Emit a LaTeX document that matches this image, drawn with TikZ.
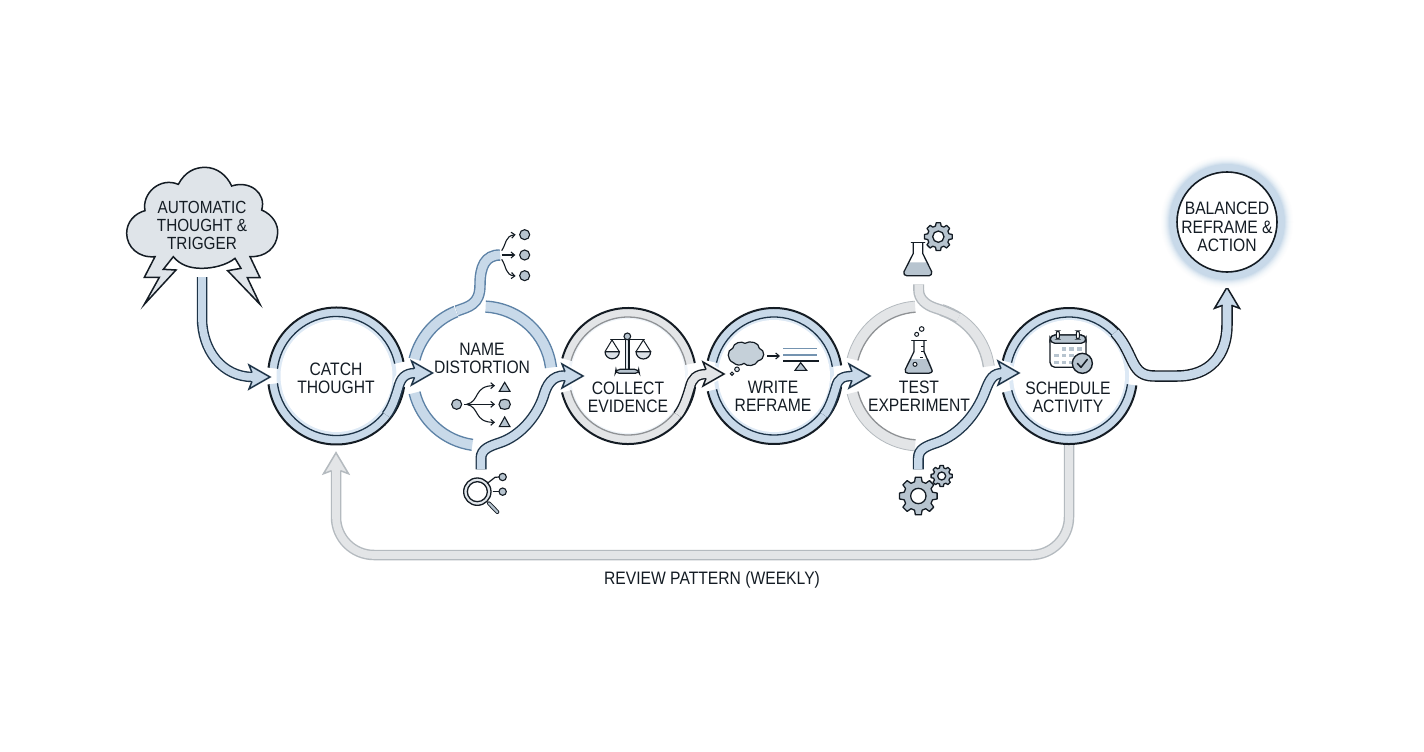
\documentclass[tikz,border=0pt]{standalone}
\usepackage{fontspec}
\setmainfont[FakeStretch=0.87]{Liberation Sans}
\definecolor{ink}{HTML}{141C24}
\definecolor{bandblue}{HTML}{C8D9E9}
\definecolor{edgedark}{HTML}{1E3448}
\definecolor{steel}{HTML}{5D82A6}
\definecolor{bandgrey}{HTML}{E3E5E7}
\definecolor{greyedge}{HTML}{8F9295}
\definecolor{paleedge}{HTML}{B4BABF}
\definecolor{glowblue}{HTML}{DDE9F5}
\definecolor{iconfill}{HTML}{B7C4CF}
\definecolor{cloudfill}{HTML}{DFE4E9}
\newcommand\ringw{2}
\newcommand\ringseg[9]{% cx cy Rout Rin a1 a2 fill outer inner
  \fill[#7] ([shift={(#1,#2)}]#5:#3pt) arc[start angle=#5,end angle=#6,radius=#3pt]
     -- ([shift={(#1,#2)}]#6:#4pt) arc[start angle=#6,end angle=#5,radius=#4pt] -- cycle;
  \draw[#8,line width=\ringw pt] ([shift={(#1,#2)}]#5:#3pt) arc[start angle=#5,end angle=#6,radius=#3pt];
  \draw[#9,line width=1.3pt] ([shift={(#1,#2)}]#5:#4pt) arc[start angle=#5,end angle=#6,radius=#4pt];
}
\newcommand\bandline[4]{% edge fill width path
  \draw[#1,line width=#3pt] #4;
  \pgfmathsetmacro\innerw{#3-2.8}
  \draw[#2,line width=\innerw pt] #4;
}
\newcommand\halo[2]{\draw[white,line width=#1pt] #2;}
\newcommand\bandhead[5]{% tip angle fill edge halfwidth
  \begin{scope}[shift={#1},rotate=#2]
    \draw[white,line width=5pt,line join=miter] (-21,-#5) -- (0,0) -- (-21,#5);
    \filldraw[fill=#3,draw=#4,line width=1.5pt,line join=miter] (-18,-4.4) -- (-21,-#5) -- (0,0) -- (-21,#5) -- (-18,4.4);
  \end{scope}
}
\newcommand\sarrow[6]{% ringnode tipy fill edge startname tipname
  \begin{scope}[shift={(#1)}]
    \halo{14}{(63,9) .. controls (65,2) and (68,#2) .. (77,#2)}
    \bandline{#4}{#3}{10.5}{(50,39) .. controls (56,31) and (59,21) .. (62,11) .. controls (64,3) and (68,#2) .. (79,#2)}
    \bandhead{(96,#2)}{0}{#3}{#4}{12}
    \coordinate (#5) at (79,#2);
    \coordinate (#6) at (96,#2);
  \end{scope}
}
\newcommand\gearicon[5]{% cx cy R root hole
  \begin{scope}[shift={(#1,#2)}]
    \filldraw[fill=iconfill,draw=ink,line width=1.3pt,line join=round] (-15:#4pt)
      \foreach \a in {0,45,...,315}{ -- (\a-15:#4pt) -- (\a-9:#3pt) -- (\a+9:#3pt) -- (\a+15:#4pt)} -- cycle;
    \filldraw[fill=white,draw=ink,line width=1.3pt] (0,0) circle[radius=#5pt];
  \end{scope}
}
\usetikzlibrary{arrows.meta}
\tikzset{
  ringnode/.style={circle,inner sep=0pt,outer sep=0pt},
  lab/.style={align=center,inner sep=0pt,text=ink,font=\fontsize{18}{18.4}\selectfont},
  zoomed/.style 2 args={shift={(#1,#2)},scale=1/3},
  iconline/.style={draw=ink,line width=1.2pt,line cap=round},
  smallarrow/.style={draw=ink,line width=1.1pt,-{Straight Barb[length=3.5pt,width=6pt]}},
  icondot/.style={fill=iconfill,draw=ink,line width=1.1pt},
}
\begin{document}
\begin{tikzpicture}[x=1pt,y=-1pt]
\useasboundingbox (0,0) rectangle (1424,752);
\fill[white] (0,0) rectangle (1424,752);

% ---- named anchors
\node[ringnode,minimum size=137pt] (catch) at (336.5,376) {};
\node[ringnode,minimum size=150pt] (name) at (482,376) {};
\node[ringnode,minimum size=136pt] (collect) at (628,376) {};
\node[ringnode,minimum size=136pt] (write) at (774,376) {};
\node[ringnode,minimum size=150pt] (test) at (920,376) {};
\node[ringnode,minimum size=136pt] (sched) at (1069,376) {};
\node[ringnode,minimum size=116pt] (bal) at (1227,222) {};
\coordinate (cloudout) at (202,277);
\coordinate (catchin) at (270,377);
\coordinate (catchinb) at (253,377);
\coordinate (fbbase) at (336,470);
\coordinate (fbtip) at (336,452.7);
\coordinate (balbase) at (1227,304);
\coordinate (baltip) at (1227,287.3);

% ---- feedback
\begin{scope}[rounded corners=38pt]
\bandline{paleedge}{bandgrey}{10.5}{(sched.south) -- (sched.south |- fbbase) -- ++(0,85) -- (336,555) -- (fbbase)}
\end{scope}
\bandhead{(fbtip)}{90}{bandgrey}{paleedge}{12.5}
\node[lab,font=\fontsize{18}{18}\selectfont] (review) at (712,580) {REVIEW PATTERN (WEEKLY)};

% ---- cloud
\begin{scope}[zoomed={110}{150}]
\filldraw[fill=cloudfill,draw=ink,line width=1.5pt,line join=miter]
 (135,320) .. controls (85,325) and (50,290) .. (50,250)
 .. controls (50,215) and (75,190) .. (105,182)
 .. controls (95,130) and (150,80) .. (205,103)
 .. controls (225,65) and (255,52) .. (285,52)
 .. controls (320,52) and (350,75) .. (365,108)
 .. controls (420,90) and (470,130) .. (455,180)
 .. controls (490,195) and (505,225) .. (503,250)
 .. controls (500,295) and (465,322) .. (420,320)
 -- (450,383) -- (412,383) -- (450,463) -- (353,362) -- (393,355) -- (375,325)
 .. controls (350,345) and (310,355) .. (275,355)
 .. controls (240,355) and (210,345) .. (190,320)
 -- (160,358) -- (198,360) -- (103,463) -- (148,382) -- (103,382) -- cycle;
\end{scope}
\node[lab,font=\fontsize{17.6}{18}\selectfont] (cloud) at (202,225) {AUTOMATIC\\THOUGHT \&\\TRIGGER};

% ---- cloud -> catch
\bandline{edgedark}{bandblue}{10.5}{(cloudout) -- (202,318) .. controls (202,350) and (222,377) .. (catchinb)}
\bandhead{(catchin)}{0}{bandblue}{edgedark}{12}

% ---- catch
\fill[glowblue] (catch) circle[radius=60pt];
\fill[white] (catch) circle[radius=56pt];
\ringseg{336.5}{376}{68.5}{59.5}{12}{173}{bandblue}{ink}{edgedark}
\ringseg{336.5}{376}{68.5}{59.5}{187}{352}{bandblue}{ink}{edgedark}
\node[lab] (catchlab) at (336,378) {CATCH\\THOUGHT};

% ---- name
\renewcommand\ringw{1.3}
\ringseg{482}{376}{75}{64}{112}{166}{bandblue}{steel}{steel}
\ringseg{482}{376}{75}{64}{194}{262}{bandblue}{steel}{steel}
\ringseg{482}{376}{75}{64}{7}{87}{bandblue}{steel}{steel}
\begin{scope}[zoomed={400}{210}]
 \bandline{steel}{bandblue}{11.5}{(170,303) .. controls (205,290) and (240,285) .. (240,225) .. controls (240,170) and (255,135) .. (300,135)}
\end{scope}
\node[lab] (namelab) at (482,358.5) {NAME\\DISTORTION};

% ---- collect
\renewcommand\ringw{2}
\fill[glowblue!45] (collect) circle[radius=60pt];
\fill[white] (collect) circle[radius=57pt];
\ringseg{628}{376}{68}{59}{11}{165}{bandgrey}{ink}{greyedge}
\ringseg{628}{376}{68}{59}{194}{352}{bandgrey}{ink}{greyedge}
\node[lab] (collectlab) at (628,397) {COLLECT\\EVIDENCE};

% ---- write
\fill[glowblue] (write) circle[radius=60pt];
\fill[white] (write) circle[radius=56pt];
\ringseg{774}{376}{68}{59}{9}{167}{bandblue}{ink}{edgedark}
\ringseg{774}{376}{68}{59}{193}{352}{bandblue}{ink}{edgedark}
\node[lab] (writelab) at (773,396.5) {WRITE\\REFRAME};

% ---- test
\renewcommand\ringw{0.8}
\ringseg{920}{376}{75}{64}{94}{166}{bandgrey}{paleedge}{greyedge}
\ringseg{920}{376}{75}{64}{194}{266}{bandgrey}{paleedge}{greyedge}
\ringseg{920}{376}{75}{64}{8}{72}{bandgrey}{paleedge}{paleedge}
\begin{scope}[zoomed={700}{210}]
 \bandline{paleedge}{bandgrey}{11}{(656,223) -- (656,240) .. controls (656,268) and (680,286) .. (705,294) .. controls (730,302) and (750,310) .. (775,323)}
\end{scope}
\node[lab] (testlab) at (919,396.5) {TEST\\EXPERIMENT};

% ---- schedule
\renewcommand\ringw{2}
\fill[glowblue] (sched) circle[radius=60pt];
\fill[white] (sched) circle[radius=56pt];
\ringseg{1069}{376}{68}{59}{42}{167}{bandblue}{ink}{edgedark}
\ringseg{1069}{376}{68}{59}{194}{352}{bandblue}{ink}{edgedark}
\bandline{ink}{bandblue}{11.5}{(1115,332.5) .. controls (1126,344) and (1130,358) .. (1135,366) .. controls (1140,374) and (1146,376) .. (1155,376) -- (1177,376) .. controls (1210,376) and (1227,355) .. (1227,325) -- (balbase)}
\bandhead{(baltip)}{90}{bandblue}{ink}{12.5}
\node[lab] (schedlab) at (1068,397) {SCHEDULE\\ACTIVITY};

% ---- balanced
\foreach \r/\c in {66/4,65/8,64/14,63/22,62/32,61/45,60/60,59/80,58/100}
  \fill[bandblue!\c!white] (bal) circle[radius=\r pt];
\filldraw[fill=white,draw=ink,line width=1.6pt] (bal) circle[radius=50pt];
\node[lab] (ballab) at (1227,227) {BALANCED\\REFRAME \&\\ACTION};

% ---- S arrows
\sarrow{catch}{-3}{bandblue}{edgedark}{s1}{t1}
\sarrow{collect}{-2}{bandgrey}{ink}{s3}{t3}
\sarrow{write}{0}{bandblue}{edgedark}{s4}{t4}

% name -> collect
\begin{scope}[zoomed={400}{210}]
 \halo{14}{(430,560) .. controls (440,525) and (455,497) .. (490,497)}
 \bandline{edgedark}{bandblue}{11}{(243,778) -- (243,745) .. controls (243,717) and (270,708) .. (300,698) .. controls (360,678) and (410,620) .. (430,560) .. controls (440,525) and (455,497) .. (495,497)}
\end{scope}
\bandhead{(583,376)}{0}{bandblue}{edgedark}{12}

% test -> schedule
\begin{scope}[zoomed={700}{210}]
 \halo{14}{(855,545) .. controls (870,505) and (880,490) .. (905,490)}
 \bandline{edgedark}{bandblue}{11}{(655,778) -- (655,745) .. controls (655,717) and (680,708) .. (710,698) .. controls (780,673) and (830,610) .. (855,545) .. controls (870,505) and (880,490) .. (908,490)}
\end{scope}
\bandhead{(1019,373)}{0}{bandblue}{edgedark}{12}

% ---- icons, name top
\begin{scope}[zoomed={400}{210}]
 \filldraw[icondot] (374,74) circle[radius=15pt];
 \filldraw[icondot] (374,135) circle[radius=15pt];
 \filldraw[icondot] (374,197) circle[radius=15pt];
 \draw[smallarrow] (305,135) -- (346,135);
 \draw[smallarrow] (305,122) .. controls (320,100) and (315,78) .. (347,74);
 \draw[smallarrow] (305,148) .. controls (320,170) and (315,195) .. (347,198);
 % icon inside name
 \filldraw[icondot] (170,583) circle[radius=15pt];
 \draw[smallarrow] (193,583) -- (285,583);
 \draw[smallarrow] (200,583) .. controls (240,575) and (220,527) .. (285,527);
 \draw[smallarrow] (200,583) .. controls (240,591) and (220,637) .. (285,637);
 \filldraw[icondot] (298,544) -- (314,517) -- (330,544) -- cycle;
 \filldraw[icondot] (314,568) -- (326,571) -- (331,583) -- (326,595) -- (314,598) -- (302,595) -- (297,583) -- (302,571) -- cycle;
 \filldraw[icondot] (298,650) -- (314,621) -- (330,650) -- cycle;
 % magnifier
 \draw[ink,line width=4pt,line cap=round] (267,880) -- (292,906);
 \draw[iconfill,line width=2.2pt,line cap=round] (267,880) -- (292,906);
 \draw[ink,line width=1.3pt,fill=iconfill!40!white] (232,845) circle[radius=41pt];
 \draw[ink,line width=1.3pt,fill=white] (232,845) circle[radius=30pt];
 \draw[iconline] (262,820) -- (285,802) -- (297,801);
 \draw[iconline] (280,845) -- (297,845);
 \filldraw[icondot] (308,801) circle[radius=11pt];
 \filldraw[icondot] (308,845) circle[radius=11pt];
 % scales
 \draw[iconline] (632,388) -- (733,388);
 \draw[ink,line width=1.1pt,fill=iconfill!40!white] (677,388) rectangle (687,478);
 \filldraw[icondot] (682,379) circle[radius=10pt];
 \filldraw[fill=iconfill,draw=ink,line width=1.2pt,rounded corners=4pt] (648,478) -- (716,478) -- (718,490) -- (646,490) -- cycle;
 \draw[ink,line width=1pt] (615,425) -- (636,390) -- (658,425);
 \draw[ink,line width=1pt] (708,425) -- (730,390) -- (752,425);
 \filldraw[fill=iconfill!50!white,draw=ink,line width=1.2pt] (615,425) -- (658,425) arc[start angle=0,end angle=-180,radius=21.5pt] -- cycle;
 \filldraw[fill=iconfill!50!white,draw=ink,line width=1.2pt] (708,425) -- (752,425) arc[start angle=0,end angle=-180,radius=22pt] -- cycle;
\end{scope}

% ---- icons, write, test
\begin{scope}[zoomed={700}{210}]
 \filldraw[fill=iconfill!80!white,draw=ink,line width=1.2pt]
   (100,458) .. controls (80,450) and (80,420) .. (98,415)
   .. controls (100,398) and (125,392) .. (135,400)
   .. controls (150,390) and (178,398) .. (178,415)
   .. controls (196,420) and (196,448) .. (175,452)
   .. controls (165,470) and (140,470) .. (132,460)
   .. controls (122,468) and (108,466) .. (100,458) -- cycle;
 \filldraw[fill=iconfill!50!white,draw=ink,line width=1pt] (111,478) circle[radius=7pt];
 \filldraw[fill=iconfill!50!white,draw=ink,line width=1pt] (96,491) circle[radius=5pt];
 \draw[smallarrow] (202,438) -- (240,438);
 \draw[steel!75!iconfill,line width=1.2pt] (250,416) -- (352,416);
 \draw[steel!75!iconfill,line width=1.2pt] (250,435) -- (352,435);
 \draw[ink,line width=1.3pt] (250,453) -- (357,453);
 \filldraw[icondot] (285,481) -- (302,458) -- (320,481) -- cycle;
 % flask inside test
 \fill[iconfill] (630,447) -- (686,447) -- (697,480) .. controls (697,488) and (690,490) .. (686,490) -- (625,490) .. controls (618,490) and (613,486) .. (616,478) -- cycle;
 \draw[ink,line width=1.3pt,line join=round] (642,392) -- (642,425) -- (616,478) .. controls (613,486) and (618,490) .. (625,490) -- (686,490) .. controls (692,490) and (700,486) .. (695,478) -- (672,425) -- (672,392);
 \draw[ink,line width=1.3pt,line cap=round] (635,391) -- (679,391);
 \draw[ink,line width=1pt] (664,410) -- (672,410) (664,425) -- (672,425) (660,442) -- (668,442);
 \draw[ink,line width=1pt,fill=white] (645,463) circle[radius=6pt];
 \draw[ink,line width=1pt,fill=white] (650,373) circle[radius=6pt];
 \draw[ink,line width=1pt,fill=white] (665,357) circle[radius=7pt];
 % flask above test
 \fill[iconfill] (629,157) -- (680,157) -- (696,186) .. controls (697,195) and (692,197) .. (688,197) -- (620,197) .. controls (614,197) and (609,192) .. (612,185) -- cycle;
 \draw[ink,line width=1.3pt,line join=round] (640,97) -- (640,130) -- (612,185) .. controls (609,192) and (614,197) .. (620,197) -- (688,197) .. controls (692,197) and (697,192) .. (695,185) -- (668,130) -- (668,97);
 \draw[ink,line width=1.3pt,line cap=round] (634,97) -- (674,97);
\end{scope}
\begin{scope}[zoomed={700}{210}]
 \gearicon{715}{80}{42}{33}{17}
 \gearicon{655}{858}{57}{44}{23}
 \gearicon{725}{798}{32}{25}{12}
\end{scope}

% ---- calendar
\begin{scope}[zoomed={990}{150}]
 \filldraw[fill=white,draw=ink,line width=1.3pt,rounded corners=5pt] (180,555) rectangle (288,652);
 \filldraw[fill=iconfill,draw=ink,line width=1.3pt,rounded corners=5pt] (180,555) -- (288,555) -- (288,580) -- (180,580) -- cycle;
 \filldraw[fill=white,draw=ink,line width=1.1pt,rounded corners=2pt] (199,543) rectangle (208,567);
 \filldraw[fill=white,draw=ink,line width=1.1pt,rounded corners=2pt] (259,543) rectangle (268,567);
 \foreach \x/\y in {215/592,238/592,262/592,192/612,215/612,238/612,262/612,192/632,215/632,238/632}
   \fill[iconfill] (\x,\y) rectangle +(14,10);
 \filldraw[fill=iconfill,draw=ink,line width=1.4pt] (277,640) circle[radius=30pt];
 \draw[ink,line width=1.5pt,line cap=round,line join=round] (262,640) -- (273,652) -- (292,628);
\end{scope}
\end{tikzpicture}
\end{document}
